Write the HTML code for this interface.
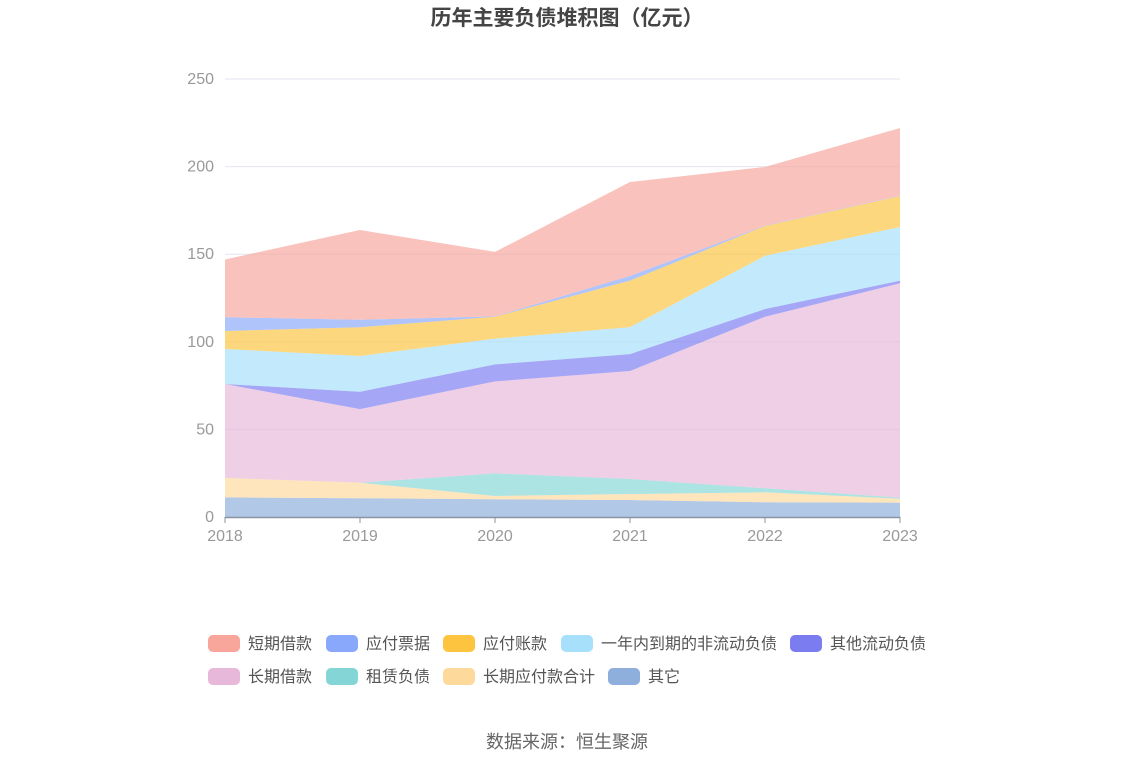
<!DOCTYPE html>
<html><head><meta charset="utf-8"><style>
body{margin:0;background:#fff;font-family:"Liberation Sans","Noto Sans CJK SC",sans-serif;}
#wrap{position:relative;width:1134px;height:766px;overflow:hidden;}
</style></head><body><div id="wrap">
<svg id="chart" width="1134" height="766" style="font-family:'Liberation Sans','Noto Sans CJK SC',sans-serif">
<text x="567" y="25" text-anchor="middle" font-size="21" font-weight="bold" fill="#444">历年主要负债堆积图（亿元）</text>
<g id="grid"></g><g id="areas"></g><g id="axes"></g><g id="legend"></g>
<text x="567" y="748" text-anchor="middle" font-size="18" fill="#666">数据来源：恒生聚源</text>
</svg></div>
<script>
const years=["2018","2019","2020","2021","2022","2023"];
const yTicks=[0,50,100,150,200,250];
const seriesNames=["其它","长期应付款合计","租赁负债","长期借款","其他流动负债","一年内到期的非流动负债","应付账款","应付票据","短期借款"];
const sOther=[11.2,10.7,10.1,9.7,8.4,8.2];
const sLongPayable=[11.1,8.9,1.9,3.4,5.7,2.2];
const sLease=[0,0,12.9,8.6,2.3,0.6];
const sLongLoan=[53.6,42,52.5,61.6,97.9,122.4];
const sOtherCurrent=[0,9.9,9.7,9.7,4.4,1.5];
const sDueWithinYear=[20,20.4,14.7,15.4,30.4,30.6];
const sAccountsPayable=[10.3,16.4,12.5,26.5,17,17.7];
const sNotesPayable=[7.8,4.3,0.2,2.7,0.2,0.2];
const sShortLoan=[33,51.2,36.8,53.6,33.5,38.6];
const allSeries=[sOther,sLongPayable,sLease,sLongLoan,sOtherCurrent,sDueWithinYear,sAccountsPayable,sNotesPayable,sShortLoan];
const colors=["#8eaedc","#fed99c","#84d6d6","#e8b8da","#7b7cf0","#a6e0fb","#fcc43f","#8aa8fb","#f8a59c"];
const slugs=["other","long-term-payable","lease-liability","long-term-loan","other-current-liability","non-current-due-within-year","accounts-payable","notes-payable","short-term-loan"];
const NS="http://www.w3.org/2000/svg";
const x=i=>225+i*135, y=v=>517-v*438/250;
function mk(t,a,p){const e=document.createElementNS(NS,t);for(const k in a)e.setAttribute(k,a[k]);p.appendChild(e);return e;}
const grid=document.getElementById('grid'),axes=document.getElementById('axes'),areas=document.getElementById('areas'),legend=document.getElementById('legend');
yTicks.forEach(t=>{
 if(t>0){const l=mk('line',{x1:225,x2:900,y1:y(t),y2:y(t),stroke:'#e3e5f0','stroke-width':1},grid);
 
 }
 const tx=mk('text',{x:214,y:y(t)+5,'text-anchor':'end','font-size':16,fill:'#999'},axes);tx.textContent=t;
 
 
});
let base=years.map(()=>0);
allSeries.forEach((s,k)=>{
 const top=base.map((b,i)=>b+s[i]);
 let d='M'+years.map((_,i)=>x(i)+','+y(top[i])).join('L');
 for(let i=years.length-1;i>=0;i--)d+='L'+x(i)+','+y(base[i]);
 const p=mk('path',{d:d+'Z',fill:colors[k],'fill-opacity':0.68,stroke:'none'},areas);
 
 
 base=top;
});
const ax=mk('line',{x1:225,x2:900,y1:517.5,y2:517.5,stroke:'#8a94a6','stroke-width':1.5},axes);


years.forEach((yr,i)=>{
 const tk=mk('line',{x1:x(i),x2:x(i),y1:517,y2:523,stroke:'#8a94a6'},axes);
 
 
 const tx=mk('text',{x:x(i),y:541,'text-anchor':'middle','font-size':16,fill:'#999'},axes);tx.textContent=yr;
 
 
});
const legendOrder=[8,7,6,5,4,3,2,1,0];
const legPos=[[208,643],[326,643],[443,643],[561,643],[790,643],[208,676],[326,676],[443,676],[608,676]];
legendOrder.forEach((k,j)=>{
 const [lx,ly]=legPos[j];
 const g=mk('g',{},legend);
 
 
 mk('rect',{x:lx,y:ly-8,width:32,height:17,rx:5,fill:colors[k]},g);
 const t=mk('text',{x:lx+40,y:ly+6,'font-size':16,fill:'#555'},g);t.textContent=seriesNames[k];
});
</script></body></html>
